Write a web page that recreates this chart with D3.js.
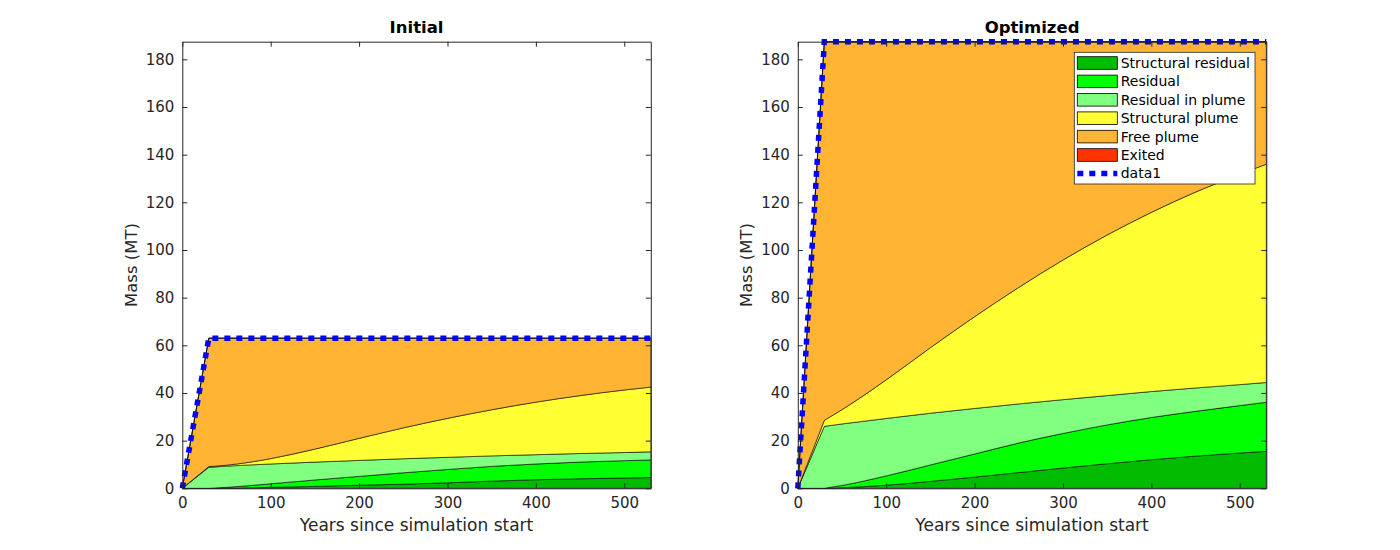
<!DOCTYPE html>
<html>
<head>
<meta charset="utf-8">
<script src="https://cdn.jsdelivr.net/npm/d3@7"></script>
<style>
  html, body { margin: 0; padding: 0; background: #fff; }
  svg { display: block; font-family: "DejaVu Sans", sans-serif; }
</style>
</head>
<body>
<svg id="chart" width="1400" height="550"></svg>
<script>
// ---------------- DATA ----------------
const years = [0, 30, 50, 100, 150, 200, 250, 300, 350, 400, 450, 500, 530];
const seriesNames = ["Structural residual", "Residual", "Residual in plume", "Structural plume", "Free plume", "Exited"];
const xTicks = [0, 100, 200, 300, 400, 500];
const yTicks = [0, 20, 40, 60, 80, 100, 120, 140, 160, 180];
const xMax = 530;
const yMax = 187.4;
const panelTitles = ["Initial", "Optimized"];
const totalLabel = "data1";

// Initial (per-series masses, MT)
const initStructuralResidual = [0, 0, 0.05, 0.4, 0.8, 1.3, 1.7, 2.3, 3.0, 3.6, 4.0, 4.3, 4.5];
const initResidual           = [0, 0, 0.35, 1.5, 2.7, 3.7, 4.8, 5.6, 6.2, 6.6, 7.0, 7.3, 7.4];
const initResidualInPlume    = [0, 8.8, 8.9, 8.3, 7.5, 6.7, 5.9, 5.1, 4.4, 3.9, 3.6, 3.4, 3.4];
const initStructuralPlume    = [0, 0.3, 0.4, 2.25, 5.45, 9.25, 12.95, 16.35, 19.35, 22.05, 24.3, 26.25, 27.15];
const initFreePlume          = [0, 53.9, 53.3, 50.55, 46.55, 42.05, 37.65, 33.65, 30.05, 26.85, 24.1, 21.75, 20.55];
const initExited             = [0, 0, 0, 0, 0, 0, 0, 0, 0, 0, 0, 0, 0];
const initTotal              = [0, 63, 63, 63, 63, 63, 63, 63, 63, 63, 63, 63, 63];

// Optimized (per-series masses, MT)
const optStructuralResidual = [0, 0, 0.25, 1.3, 2.9, 4.7, 6.6, 8.5, 10.3, 12.0, 13.5, 14.8, 15.5];
const optResidual           = [0, 0, 0.95, 3.9, 6.9, 9.7, 12.4, 14.5, 16.3, 17.7, 18.8, 19.9, 20.6];
const optResidualInPlume    = [0, 26, 25.8, 24.1, 21.7, 19.1, 16.4, 14.2, 12.3, 10.9, 9.8, 8.8, 8.3];
const optStructuralPlume    = [0, 2.5, 6.0, 16.2, 27.5, 38.5, 48.9, 58.6, 67.4, 75.2, 82.2, 88.3, 91.6];
const optFreePlume          = [0, 158.9, 154.4, 141.9, 128.4, 115.4, 103.1, 91.6, 81.1, 71.6, 63.1, 55.6, 51.4];
const optExited             = [0, 0, 0, 0, 0, 0, 0, 0, 0, 0, 0, 0, 0];
const optTotal              = [0, 187.4, 187.4, 187.4, 187.4, 187.4, 187.4, 187.4, 187.4, 187.4, 187.4, 187.4, 187.4];

// ---------------- STYLE ----------------
const colors = ["#00bb00", "#00ff00", "#80ff80", "#ffff33", "#ffb533", "#ff3300"];
const axisColor = "#262626";

const svg = d3.select("#chart");

const panels = [
  { title: panelTitles[0], left: 182.3, right: 650.8,
    series: [initStructuralResidual, initResidual, initResidualInPlume, initStructuralPlume, initFreePlume, initExited],
    total: initTotal, legend: false },
  { title: panelTitles[1], left: 797.8, right: 1266.3,
    series: [optStructuralResidual, optResidual, optResidualInPlume, optStructuralPlume, optFreePlume, optExited],
    total: optTotal, legend: true }
];
const plotTop = 41.7, plotBottom = 488.3;

panels.forEach(p => {
  const x = d3.scaleLinear().domain([0, xMax]).range([p.left, p.right]);
  const y = d3.scaleLinear().domain([0, yMax]).range([plotBottom, plotTop]);
  const g = svg.append("g");

  const rows = years.map((t, i) => {
    const r = { t };
    seriesNames.forEach((n, k) => r[n] = p.series[k][i]);
    return r;
  });
  const stacked = d3.stack().keys(seriesNames)(rows);

  const lin = d3.line().curve(d3.curveLinear);
  const mono = d3.line().curve(d3.curveMonotoneX);

  stacked.forEach((layer, k) => {
    const topPts = layer.map((d, i) => [x(years[i]), y(d[1])]);
    const botPts = layer.map((d, i) => [x(years[i]), y(d[0])]);
    let path = lin(topPts.slice(0, 2));
    path += mono(topPts.slice(1)).replace(/^M/, "L");
    path += mono(botPts.slice(1).reverse()).replace(/^M/, "L");
    path += lin(botPts.slice(0, 2).reverse()).replace(/^M/, "L");
    path += "Z";
    g.append("path")
      .attr("d", path)
      .attr("fill", colors[k])
      .attr("stroke", "#000")
      .attr("stroke-width", 0.6)
      .attr("stroke-linejoin", "round");
  });

  // total line (data1)
  g.append("path")
    .attr("d", d3.line().x((d, i) => x(years[i])).y(d => y(d))(p.total))
    .attr("fill", "none")
    .attr("stroke", "#0000ff")
    .attr("stroke-width", 5.5)
    .attr("stroke-dasharray", "6 6");

  // axes
  const styleAxis = sel => {
    sel.selectAll("path.domain").attr("stroke", axisColor).attr("stroke-width", 1);
    sel.selectAll(".tick line").attr("stroke", axisColor);
    sel.selectAll("text").attr("fill", axisColor).style("font-size", "15px").style("font-family", "DejaVu Sans, sans-serif");
  };
  g.append("g").attr("transform", `translate(0,${plotBottom})`)
    .call(d3.axisBottom(x).tickValues(xTicks).tickSize(-5).tickSizeOuter(0).tickPadding(9))
    .call(styleAxis);
  g.append("g").attr("transform", `translate(0,${plotTop})`)
    .call(d3.axisTop(x).tickValues(xTicks).tickSize(-5).tickSizeOuter(0).tickFormat(""))
    .call(styleAxis);
  g.append("g").attr("transform", `translate(${p.left},0)`)
    .call(d3.axisLeft(y).tickValues(yTicks).tickSize(-5).tickSizeOuter(0).tickPadding(8))
    .call(styleAxis);
  g.append("g").attr("transform", `translate(${p.right},0)`)
    .call(d3.axisRight(y).tickValues(yTicks).tickSize(-5).tickSizeOuter(0).tickFormat(""))
    .call(styleAxis);

  // title & labels
  const cx = (p.left + p.right) / 2;
  g.append("text").attr("x", cx).attr("y", 33).attr("text-anchor", "middle")
    .style("font-size", "16.5px").style("font-weight", "bold").attr("fill", "#000").text(p.title);
  g.append("text").attr("x", cx).attr("y", 531).attr("text-anchor", "middle")
    .style("font-size", "17px").attr("fill", axisColor).text("Years since simulation start");
  g.append("text").attr("transform", `translate(${p.left - 45.5},${(plotTop + plotBottom) / 2}) rotate(-90)`)
    .attr("text-anchor", "middle")
    .style("font-size", "16.5px").attr("fill", axisColor).text("Mass (MT)");

  if (p.legend) {
    const lx = 1074.3, ly = 52.3, lw = 180.7, lh = 131.7;
    const lg = g.append("g");
    lg.append("rect").attr("x", lx).attr("y", ly).attr("width", lw).attr("height", lh)
      .attr("fill", "#fff").attr("stroke", axisColor).attr("stroke-width", 0.8);
    const rowH = 18.4, y0 = 63;
    seriesNames.forEach((n, k) => {
      const cy = y0 + k * rowH;
      lg.append("rect").attr("x", 1077.3).attr("y", cy - 6.3).attr("width", 40).attr("height", 12.6)
        .attr("fill", colors[k]).attr("stroke", "#000").attr("stroke-width", 0.8);
      lg.append("text").attr("x", 1120.7).attr("y", cy).attr("dy", "0.36em")
        .style("font-size", "14px").attr("fill", "#000").text(n);
    });
    const cy = y0 + seriesNames.length * rowH;
    lg.append("line").attr("x1", 1077.3).attr("x2", 1117.3).attr("y1", cy).attr("y2", cy)
      .attr("stroke", "#0000ff").attr("stroke-width", 5.5).attr("stroke-dasharray", "6 6");
    lg.append("text").attr("x", 1120.7).attr("y", cy).attr("dy", "0.36em")
      .style("font-size", "14px").attr("fill", "#000").text(totalLabel);
  }
});
</script>
</body>
</html>
